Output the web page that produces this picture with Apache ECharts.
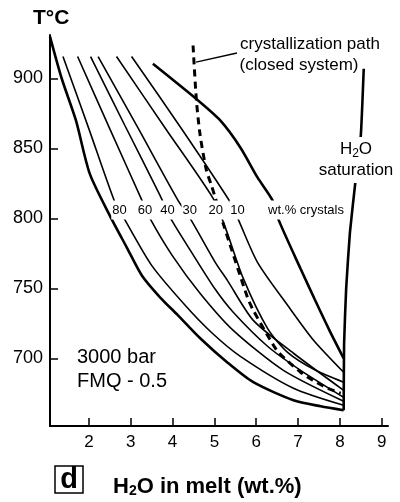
<!DOCTYPE html>
<html lang="en">
  <head>
    <meta charset="UTF-8" />
    <title>H2O in melt</title>
    <script src="https://cdn.jsdelivr.net/npm/echarts@6/dist/echarts.min.js"></script>
    <style>
      body { margin: 0; background: #fff; }
    </style>
  </head>
  <body>
    <div id="main" style="width: 400px; height: 502px"></div>
    <script type="text/javascript">
      // [H2O wt.%, T °C]
      const solidus = [[1.07, 930], [1.35, 900], [1.69, 870], [2.02, 832], [2.5, 802], [2.91, 779], [3.27, 759],
        [3.7, 743.6], [4.13, 730.7], [4.66, 714.3], [5.31, 697], [5.93, 682.9], [6.89, 670], [7.54, 665.7], [8.09, 662.9]];
      const c80 = [[1.38, 915.7], [2.0, 864], [2.62, 811.6], [2.84, 800], [3.5, 766.4], [4.3, 737.9], [4.95, 717.9],
        [5.62, 701.4], [6.89, 678.6], [8.09, 666.4]];
      const c60 = [[1.73, 915.7], [2.5, 864], [3.26, 813.4], [3.46, 800], [3.99, 773.6], [4.66, 746.4], [5.45, 720],
        [6.65, 691.4], [8.09, 669.3]];
      const c40 = [[2.04, 915.7], [2.86, 866.4], [3.7, 816.4], [3.94, 800.7], [4.47, 775], [5.02, 749.3], [5.45, 732.9],
        [6.27, 708.6], [7.06, 691.4], [8.09, 672.1]];
      const c30 = [[2.22, 915.7], [3.18, 864.3], [4.13, 812.9], [4.42, 800], [5.02, 768.6], [5.31, 755.7], [5.93, 727.1],
        [6.89, 703.6], [8.09, 677.1]];
      const c20 = [[2.66, 915.7], [3.83, 864.3], [4.97, 814.3], [5.26, 793.6], [5.69, 757.1], [6.27, 721.4], [6.75, 704.3],
        [7.42, 691.4], [8.09, 682.9]];
      const c10 = [[3.02, 915.7], [4.21, 864.3], [5.38, 811.6], [5.57, 799.3], [6.03, 768.6], [6.75, 737.9], [7.37, 712.9],
        [8.09, 690]];
      const liquidus = [[3.53, 910.5], [4.61, 884.3], [5.14, 870], [5.62, 850.7], [6.03, 829.3], [6.39, 812.9], [6.53, 799.3],
        [7.06, 764], [7.4, 742], [7.75, 720], [8.09, 700]];
      const saturation = [[8.57, 907], [8.5, 859.3], [8.38, 828.6], [8.24, 790], [8.15, 750], [8.1, 710], [8.09, 662.9]];
      const crystPath = [[4.49, 923.6], [4.57, 884.3], [4.66, 859.3], [4.81, 834.3], [4.93, 823.6], [5.21, 796.4], [5.79, 743.6],
        [5.93, 734.3], [6.34, 712.9], [6.53, 704.3], [7.06, 690], [7.35, 684.3], [7.71, 678.6], [8.02, 675]];
      const pathLeader = [[4.56, 911.7], [5.54, 918.2]];

      const xTicks = [2, 3, 4, 5, 6, 7, 8, 9];
      const yTicks = [700, 750, 800, 850, 900];
      const isoLabels = ["80", "60", "40", "30", "20", "10"];

      const FONT = '"Liberation Sans", Arial, sans-serif';

      function curve(data, width, dash, smooth) {
        return {
          type: "line",
          data: data,
          smooth: smooth === undefined ? 0.25 : smooth,
          showSymbol: false,
          silent: true,
          lineStyle: { color: "#000", width: width, type: dash || "solid" },
        };
      }

      function txt(x, y, text, size, opts) {
        opts = opts || {};
        return {
          type: "text",
          x: x,
          y: y,
          z: 100,
          style: {
            text: text,
            font: (opts.weight ? opts.weight + " " : "") + size + "px " + FONT,
            fill: "#000",
            align: opts.align || "center",
            verticalAlign: "middle",
            backgroundColor: opts.bg ? "#fff" : null,
            padding: opts.bg ? [3, 1] : 0,
          },
        };
      }

      // isopleth label x positions (px), all on one row
      const labelX = [119.5, 145, 167.5, 189.7, 215.7, 237.5];

      const graphics = isoLabels.map((t, i) => txt(labelX[i], 210, t, 13, { bg: true }));
      graphics.push(txt(306, 210, "wt.% crystals", 13, { bg: true }));
      graphics.push(txt(33, 18, "T°C", 21, { weight: "bold", align: "left" }));
      graphics.push(txt(310, 44, "crystallization path", 17, { bg: true }));
      graphics.push(txt(299, 65, "(closed system)", 17, { bg: true }));
      graphics.push({
        type: "text",
        x: 356,
        y: 160,
        z: 100,
        style: {
          text: "{a|H}{b|2}{a|O}\n{a|saturation}",
          align: "center",
          verticalAlign: "middle",
          backgroundColor: "#fff",
          padding: [2, 0],
          rich: {
            a: { font: "17px " + FONT, fill: "#000", lineHeight: 21 },
            b: { font: "12px " + FONT, fill: "#000", lineHeight: 21, verticalAlign: "bottom", padding: [6, 0, 0, 0] },
          },
        },
      });
      graphics.push(txt(77, 357, "3000 bar", 20, { align: "left" }));
      graphics.push(txt(77, 381, "FMQ - 0.5", 20, { align: "left" }));
      graphics.push({
        type: "rect",
        z: 100,
        shape: { x: 55, y: 466, width: 28, height: 27 },
        style: { fill: "#fff", stroke: "#000", lineWidth: 1.5 },
      });
      graphics.push(txt(69, 480, "d", 29, { weight: "bold" }));
      graphics.push({
        type: "text",
        x: 113,
        y: 487,
        z: 100,
        style: {
          text: "{a|H}{b|2}{a|O in melt (wt.%)}",
          align: "left",
          verticalAlign: "middle",
          rich: {
            a: { font: "bold 22px " + FONT, fill: "#000" },
            b: { font: "bold 14px " + FONT, fill: "#000", padding: [8, 0, 0, 0] },
          },
        },
      });

      const options = {
        backgroundColor: "#fff",
        animation: false,
        grid: { left: 50, top: 35, right: 12, bottom: 76 },
        xAxis: {
          type: "value",
          min: 1.07,
          max: 9.15,
          splitLine: { show: false },
          axisLine: { onZero: false, lineStyle: { color: "#000", width: 2 } },
          axisTick: { inside: true, length: 8, customValues: xTicks, lineStyle: { color: "#000", width: 1.5 } },
          axisLabel: { customValues: xTicks, color: "#000", fontSize: 17, fontFamily: FONT, margin: 8 },
        },
        yAxis: {
          type: "value",
          min: 651.6,
          max: 931.1,
          splitLine: { show: false },
          axisLine: { onZero: false, lineStyle: { color: "#000", width: 2 } },
          axisTick: { inside: true, length: 8, customValues: yTicks, lineStyle: { color: "#000", width: 1.5 } },
          axisLabel: { customValues: yTicks, color: "#000", fontSize: 18, fontFamily: FONT, margin: 7 },
        },
        series: [
          curve(solidus, 2.6),
          curve(c80, 1.6),
          curve(c60, 1.6),
          curve(c40, 1.6),
          curve(c30, 1.6),
          curve(c20, 1.6),
          curve(c10, 1.6),
          curve(liquidus, 2.6),
          curve(saturation, 2.6, null, 0.15),
          curve(crystPath, 3, [7, 5]),
          curve(pathLeader, 1.5, null, 0),
        ],
        graphic: graphics,
      };

      let myChart = echarts.init(document.getElementById("main"));
      myChart.setOption(options);
    </script>
  </body>
</html>
